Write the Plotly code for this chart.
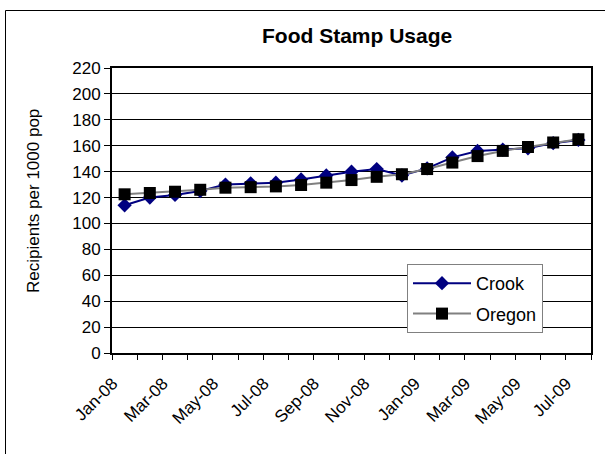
import plotly.graph_objects as go

months = ["Jan-08", "Feb-08", "Mar-08", "Apr-08", "May-08", "Jun-08", "Jul-08", "Aug-08",
          "Sep-08", "Oct-08", "Nov-08", "Dec-08", "Jan-09", "Feb-09", "Mar-09", "Apr-09",
          "May-09", "Jun-09", "Jul-09"]
crook = [114, 120, 122, 125, 130, 131, 131.5, 134, 137, 140, 142, 137, 142.5, 151, 156, 157, 158, 162, 164.5]
oregon = [122.5, 123.5, 124.5, 126, 127.6, 128, 128.6, 129.7, 131.5, 133.5, 136, 138, 142, 147, 152, 156, 159, 162.5, 165]

W, H = 605, 454
L, R, T, B = 112, 605 - 591, 68, 454 - 353
pw, ph = W - L - R, H - T - B

def px(x):
    return (x - L) / pw

def py(y):
    return (H - B - y) / ph

idx = list(range(len(months)))
FONT = "Arial, Liberation Sans, sans-serif"

fig = go.Figure()
fig.add_trace(go.Scatter(
    x=idx, y=crook, name="Crook", mode="lines+markers", legendgroup="a",
    line=dict(color="#000080", width=2),
    marker=dict(symbol="diamond", size=11, color="#000080"),
))
fig.add_trace(go.Scatter(
    x=idx, y=oregon, name="Oregon", mode="lines+markers", legendgroup="b",
    line=dict(color="#808080", width=2),
    marker=dict(symbol="square", size=12, color="#000000"),
))

fig.update_layout(
    width=W, height=H,
    margin=dict(l=L, r=R, t=T, b=B, pad=0, autoexpand=False),
    paper_bgcolor="white", plot_bgcolor="white",
    font=dict(family=FONT, size=17, color="black"),
    showlegend=True,
    legend=dict(
        x=px(407), y=py(264), xanchor="left", yanchor="top",
        bgcolor="white", bordercolor="#808080", borderwidth=1,
        font=dict(family=FONT, size=18, color="black"),
        tracegroupgap=4, itemwidth=58,
    ),
    xaxis=dict(
        automargin=False,
        range=[-0.5, len(months) - 0.5],
        tickmode="array",
        tickvals=idx[::2],
        ticktext=months[::2],
        ticks="",
        tickangle=-45,
        ticklabelstandoff=12,
        ticklabelshift=-12,
        tickfont=dict(family=FONT, size=17),
        showgrid=False, zeroline=False,
        showline=True, linecolor="black", linewidth=2, mirror=True,
        minor=dict(tickvals=[i - 0.5 for i in range(len(months) + 1)],
                   ticks="outside", ticklen=5, tickcolor="black", tickwidth=1,
                   showgrid=False),
    ),
    yaxis=dict(
        automargin=False,
        range=[0, 220], dtick=20, tick0=0,
        ticks="outside", ticklen=6, tickcolor="black", tickwidth=1,
        tickfont=dict(family=FONT, size=17),
        showgrid=True, gridcolor="black", gridwidth=1,
        zeroline=False,
        showline=True, linecolor="black", linewidth=2, mirror=True,
    ),
    annotations=[
        dict(text="<b>Food Stamp Usage</b>", x=px(357), y=py(35), xref="paper", yref="paper",
             xanchor="center", yanchor="middle", showarrow=False,
             font=dict(family=FONT, size=21, color="black")),
        dict(text="Recipients per 1000 pop", x=px(33), y=py(201), xref="paper", yref="paper",
             xanchor="center", yanchor="middle", showarrow=False, textangle=-90,
             font=dict(family=FONT, size=17, color="black")),
    ],
    shapes=[
        dict(type="rect", xref="paper", yref="paper",
             x0=px(5.5), x1=px(640), y0=py(490), y1=py(10.5),
             line=dict(color="black", width=1), fillcolor="rgba(0,0,0,0)", layer="below"),
    ],
)

fig.write_html("out.html", config={"displayModeBar": False},
               post_script="document.body.style.margin='0';")
